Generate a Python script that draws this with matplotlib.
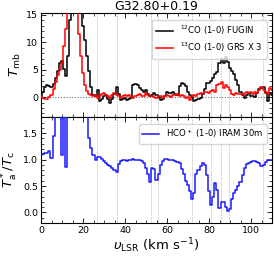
import matplotlib
matplotlib.use("Agg")
import matplotlib.pyplot as plt
from matplotlib.ticker import MultipleLocator

# velocity channels (km/s)
velocity = list(range(0, 111))

co12_fugin = [
    0.2, 1.0, 1.8, 2.2, 2.1, 1.8, 2.3, 3.5, 4.8, 6.3,
    6.6, 5.2, 3.8, 7.5, 14.0, 19.0, 22.0, 23.0, 22.0, 18.0,
    13.0, 10.5, 7.5, 4.8, 1.8, 0.4, 0.2, 1.3, -0.8, -0.3,
    0.1, 0.4, -0.4, -1.1, -0.3, 0.6, 1.8, 0.5, -0.5, -0.3,
    -0.2, -0.5, -0.3, -0.2, 2.2, 2.4, 2.2, 1.6, 1.3, 1.0,
    1.2, 0.6, 0.1, 0.3, 0.7, 0.3, 0.0, -0.5, -0.3, 0.2,
    1.0, 0.7, 0.8, 1.0, 0.5, 0.4, 2.0, 2.5, 2.4, 2.0,
    1.0, 0.4, 0.0, -0.8, -0.6, -0.3, -0.1, 0.6, 1.5, 2.6,
    2.6, 3.0, 3.5, 4.2, 4.6, 6.2, 7.0, 6.2, 7.4, 6.4,
    5.3, 4.8, 4.2, 3.2, 2.2, 1.0, 0.4, -0.2, 0.3, 0.7,
    0.1, 0.2, 0.0, 0.8, 1.5, 1.7, 1.9, 0.8, -0.8, 0.7,
    0.4,
]

co13_grs_x3 = [
    0.1, -0.2, -0.4, -0.3, 0.0, 0.4, 1.5, 2.7, 4.0, 5.0,
    6.3, 9.3, 12.5, 15.5, 18.0, 20.0, 20.0, 17.0, 11.5, 7.5,
    4.3, 2.2, 1.1, 0.5, 0.3, 0.1, 0.3, -0.1, 0.2, 0.5,
    0.7, 0.4, 0.1, -0.2, 0.4, 0.7, 0.4, 0.2, -0.1, 0.2,
    0.4, 0.1, 0.3, 0.0, -0.2, 0.1, 0.3, 0.5, 0.2, 0.1,
    0.7, 0.3, 0.1, 0.2, 0.0, -0.2, 0.1, 0.2, -0.1, 0.1,
    0.3, 0.2, 0.0, 0.4, 0.3, 0.5, 0.2, 0.4, 0.1, -0.2,
    0.0, -0.5, 0.1, 0.4, 0.2, 0.6, 0.7, 0.5, 1.0, 0.9,
    0.8, 1.1, 1.3, 1.0, 2.2, 2.4, 2.8, 1.6, 2.2, 1.8,
    1.3, 0.6, 0.3, 0.7, 0.5, 0.6, 0.4, 0.8, 1.0, 0.7,
    0.9, 0.6, 1.0, 0.8, 1.3, 1.9, 1.2, 0.9, 0.6, 1.6,
    1.2,
]

hco_iram = [
    1.08, 1.11, 1.12, 1.13, 1.17, 1.03, 1.44, 2.5, 3.0, 2.8,
    1.09, 2.8, 0.86, 3.0, 3.5, 3.5, 3.5, 3.5, 3.5, 3.5,
    3.5, 3.5, 2.5, 1.41, 1.22, 1.08, 1.00, 1.05, 1.04, 1.02,
    0.98, 0.93, 0.90, 0.87, 0.84, 0.81, 0.76, 0.92, 0.97, 0.99,
    0.99, 0.98, 1.00, 1.00, 1.01, 1.00, 0.99, 1.00, 0.98, 0.93,
    0.84, 0.72, 0.57, 0.85, 0.82, 0.62, 0.72, 0.90, 0.97, 1.01,
    1.01, 1.00, 1.00, 0.99, 0.97, 0.96, 0.94, 0.82, 0.72, 0.60,
    0.52, 0.40, 0.25, 0.37, 0.72, 0.80, 0.88, 0.94, 0.90, 0.70,
    0.40, 0.15, 0.30, 0.56, 0.43, 0.09, 0.20, 0.20, 0.10, 0.03,
    0.07, 0.25, 0.36, 0.42, 0.50, 0.58, 0.70, 0.85, 0.91, 0.93,
    0.95, 0.97, 0.97, 0.96, 0.94, 0.87, 0.90, 0.96, 1.00, 1.00,
    1.00,
]

vlines = [26.5, 36.2, 52.2, 55.6, 72.0, 81.1, 85.6, 89.4, 105.9]

title = "G32.80+0.19"
label_co12 = r"$^{12}$CO (1-0) FUGIN"
label_co13 = r"$^{13}$CO (1-0) GRS X 3"
label_hco = r"HCO$^+$ (1-0) IRAM 30m"

W, H = 274, 260
fig = plt.figure(figsize=(W / 100, H / 100), dpi=100)
left, right = 41 / W, 272 / W
ax1 = fig.add_axes([left, 1 - 117.3 / H, right - left, (117.3 - 12.7) / H])
ax2 = fig.add_axes([left, 1 - 223 / H, right - left, (223 - 117.3) / H])

tick_fs = 6.8
for ax in (ax1, ax2):
    for v in vlines:
        ax.axvline(v, color="0.7", ls=(0, (1.5, 1.5)), lw=0.6, zorder=1)
    ax.set_xlim(0, 110)
    ax.xaxis.set_major_locator(MultipleLocator(20))
    ax.xaxis.set_minor_locator(MultipleLocator(5))
    ax.tick_params(which="both", direction="in", top=True, right=True,
                   labelsize=tick_fs, pad=2)
    ax.tick_params(which="major", length=3.5, width=0.6)
    ax.tick_params(which="minor", length=2, width=0.5)
    for s in ax.spines.values():
        s.set_linewidth(0.8)

ax1.axhline(0, color="0.4", ls=(0, (1, 1.5)), lw=0.8, zorder=1)
ax1.step(velocity, co12_fugin, where="mid", color="black", lw=1.1,
         label=label_co12, zorder=3)
ax1.step(velocity, co13_grs_x3, where="mid", color="red", lw=1.1,
         label=label_co13, zorder=4)
ax1.set_ylim(-3.7, 15.4)
ax1.yaxis.set_major_locator(MultipleLocator(5))
ax1.yaxis.set_minor_locator(MultipleLocator(1))
ax1.tick_params(labelbottom=False)
ax1.set_ylabel(r"$T_{\rm mb}$", fontsize=9.5, labelpad=2)
ax1.set_title(title, fontsize=9, pad=1.5)
ax1.legend(loc="upper right", fontsize=6.1, frameon=True, fancybox=True,
           edgecolor="0.8", handlelength=2.0, borderpad=0.5,
           labelspacing=0.45, bbox_to_anchor=(0.995, 0.975))

ax2.step(velocity, hco_iram, where="mid", color="#1a1aff", lw=1.1,
         label=label_hco, zorder=3)
ax2.set_ylim(-0.2, 1.8)
ax2.yaxis.set_major_locator(MultipleLocator(0.5))
ax2.yaxis.set_minor_locator(MultipleLocator(0.1))
ax2.set_ylabel(r"$T_{\rm a}^*/T_{\rm c}$", fontsize=9.5, labelpad=2)
ax2.set_xlabel(r"$\upsilon_{\rm LSR}$ (km s$^{-1}$)", fontsize=9.5, labelpad=1)
ax2.legend(loc="upper right", fontsize=6.1, frameon=True, fancybox=True,
           edgecolor="0.8", handlelength=2.0, borderpad=0.4,
           bbox_to_anchor=(0.995, 0.975))

fig.savefig("out.png", dpi=100)
